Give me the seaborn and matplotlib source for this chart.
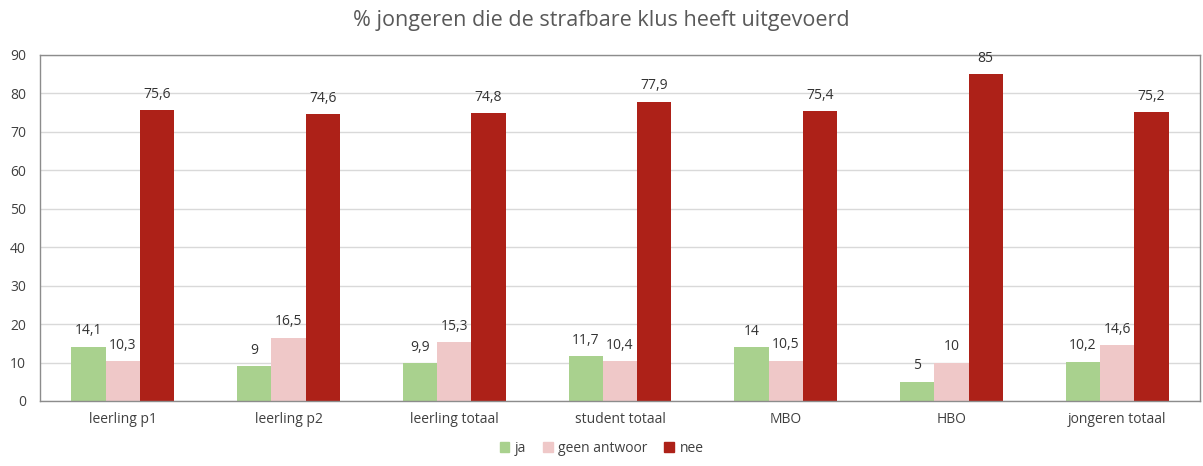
import pandas as pd
import numpy as np
import matplotlib.pyplot as plt
import seaborn as sns

# data
groepen = ["leerling p1", "leerling p2", "leerling totaal", "student totaal", "MBO", "HBO", "jongeren totaal"]
ja = [14.1, 9, 9.9, 11.7, 14, 5, 10.2]
geen_antwoord = [10.3, 16.5, 15.3, 10.4, 10.5, 10, 14.6]
nee = [75.6, 74.6, 74.8, 77.9, 75.4, 85, 75.2]
reeksen = ["ja", "geen antwoor", "nee"]
kleuren = ["#a9d18e", "#efc8c8", "#ad2118"]

df = pd.DataFrame({
    "groep": groepen * 3,
    "reeks": [reeksen[0]] * 7 + [reeksen[1]] * 7 + [reeksen[2]] * 7,
    "waarde": ja + geen_antwoord + nee,
})

sns.set_style("white")
plt.rcParams['font.family'] = ['Open Sans', 'DejaVu Sans']

fig = plt.figure(figsize=(12.03, 4.66), dpi=100)
ax = fig.add_axes([40 / 1203, 1 - 401 / 466, 1160 / 1203, 346 / 466])

sns.barplot(
    data=df,
    x="groep",
    y="waarde",
    hue="reeks",
    palette=kleuren,
    width=0.62,
    saturation=1,
    linewidth=0,
    ax=ax,
    legend=True,
)

ax.set_ylim(0, 90)
ax.set_xlim(-0.5, 6.5)
ax.set_yticks(np.arange(0, 91, 10))
ax.yaxis.grid(True, color="#d9d9d9", linewidth=1)
ax.set_axisbelow(True)
ax.set_xlabel("")
ax.set_ylabel("")
ax.tick_params(axis="both", length=0, labelsize=10, colors="#404040", pad=8)
ax.tick_params(axis="y", pad=10)

for s in ax.spines.values():
    s.set_visible(True)
    s.set_color("#8c8c8c")
    s.set_linewidth(1)


def komma(v):
    return ("%g" % v).replace(".", ",")


for cont in ax.containers:
    ax.bar_label(cont, labels=[komma(b.get_height()) for b in cont],
                 padding=6, fontsize=10, color="#333333")

ax.legend_.remove()
handles = [plt.Rectangle((0, 0), 1, 1, color=c) for c in kleuren]
fig.legend(handles, reeksen, loc="lower center", bbox_to_anchor=(0.5, -0.005),
           ncol=3, frameon=False, fontsize=10, handlelength=0.7, handleheight=0.7,
           handletextpad=0.4, columnspacing=1.2, labelcolor="#404040")

fig.text(0.5, 0.955, "% jongeren die de strafbare klus heeft uitgevoerd",
         ha="center", va="center", fontsize=15.5, color="#595959")

fig.savefig("out.png", dpi=100)
